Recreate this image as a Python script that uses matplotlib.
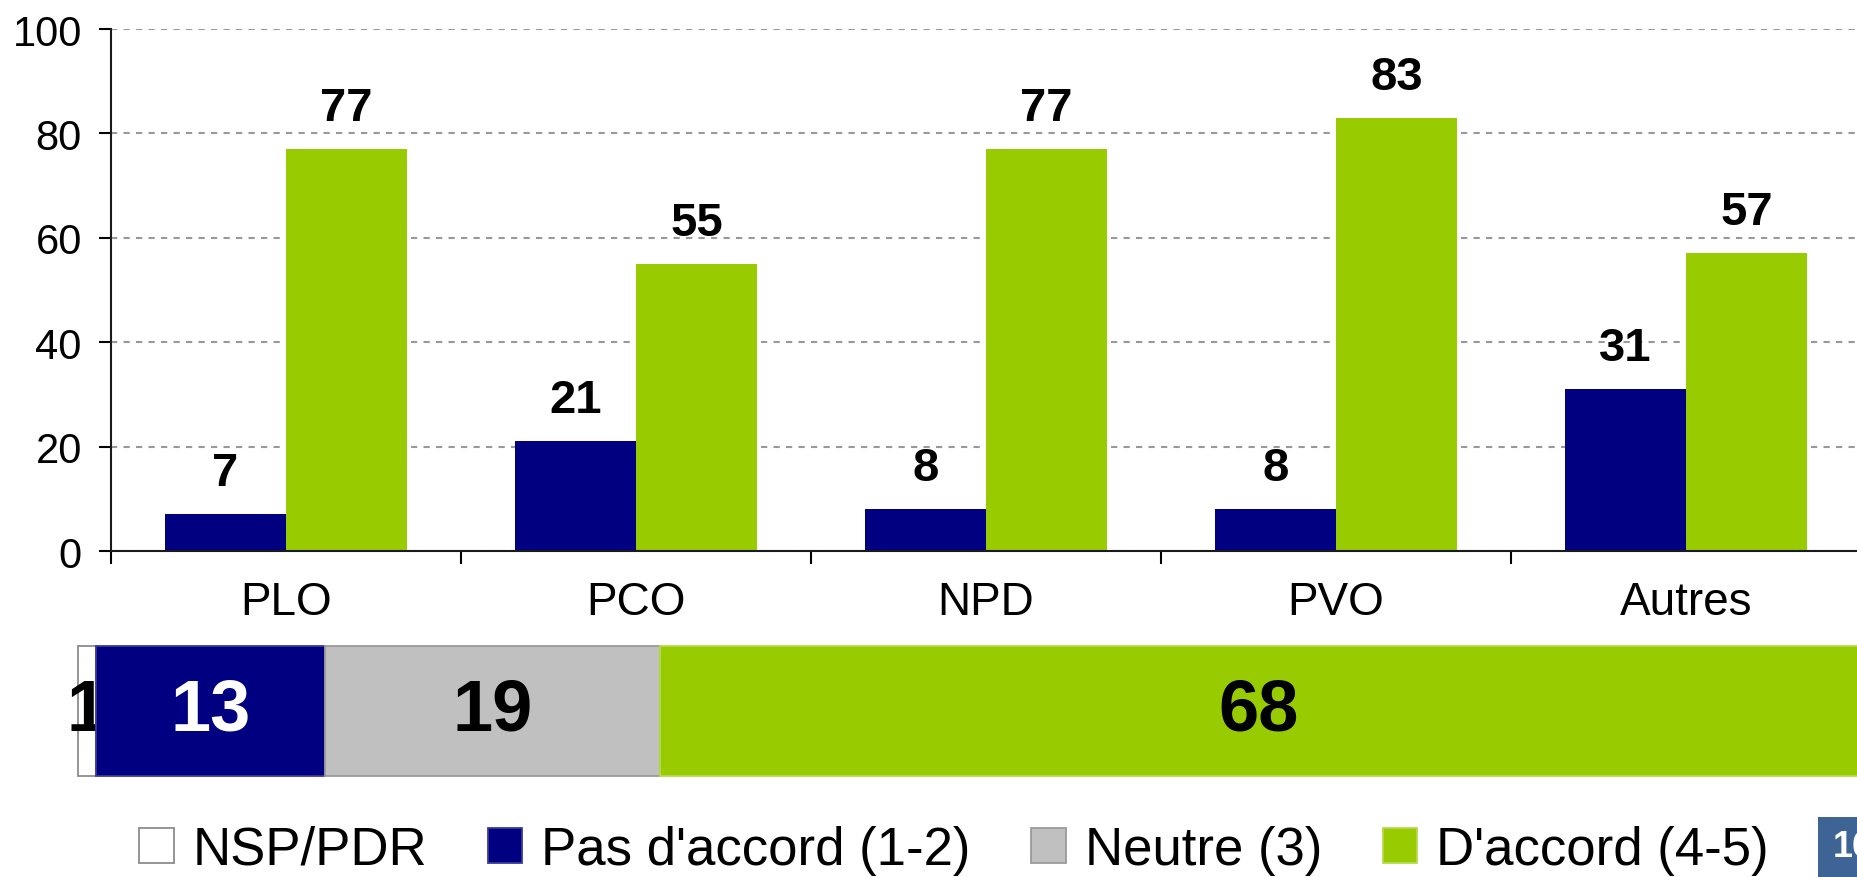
import matplotlib
matplotlib.use("Agg")
import matplotlib.pyplot as plt
from matplotlib.patches import Patch, Rectangle
import numpy as np

plt.rcParams['font.family'] = ['Liberation Sans', 'DejaVu Sans']

# data
partis = ["PLO", "PCO", "NPD", "PVO", "Autres"]
pas_accord = [7, 21, 8, 8, 31]
accord = [77, 55, 77, 83, 57]

total_labels = ["NSP/PDR", "Pas d'accord (1-2)", "Neutre (3)", "D'accord (4-5)"]
total_vals = [1, 13, 19, 68]

NAVY = "#000080"
GREEN = "#99CC00"
GRAY = "#C0C0C0"
colors = ["#FFFFFF", NAVY, GRAY, GREEN]
edges = ["#8C8C8C", "#3A3A9A", "#9A9A9A", "#B5DB4C"]
txt_colors = ["black", "white", "black", "black"]

W, H = 1858, 878
fig = plt.figure(figsize=(W / 100, H / 100), dpi=100)

# top chart: grouped bars
ax = fig.add_axes([111 / W, 1 - 552 / H, 1750 / W, 522 / H])
x = np.arange(len(partis))
bw = 0.345
b1 = ax.bar(x - bw / 2, pas_accord, bw, color=NAVY, zorder=2)
b2 = ax.bar(x + bw / 2, accord, bw, color=GREEN, zorder=2)
for bars, vals in [(b1, pas_accord), (b2, accord)]:
    for r, v in zip(bars, vals):
        ax.annotate(str(v), (r.get_x() + r.get_width() / 2, r.get_height()),
                    xytext=(0, 21), textcoords="offset points",
                    ha="center", va="baseline", fontsize=34, fontweight="bold")

ax.set_xlim(-0.5, len(partis) - 0.5)
ax.set_ylim(0, 100)
ax.set_yticks([0, 20, 40, 60, 80, 100])
ax.set_xticks(np.arange(len(partis) + 1) - 0.5)
ax.set_xticklabels([])
ax.set_xticks(x, minor=True)
ax.set_xticklabels(partis, minor=True, fontsize=33)
ax.tick_params(axis="x", which="major", length=9.5, width=1.5, direction="out")
ax.tick_params(axis="x", which="minor", length=0, pad=21)
ax.tick_params(axis="y", length=9, width=1.5, labelsize=30, pad=12)
for s in ["top", "right"]:
    ax.spines[s].set_visible(False)
for s in ["left", "bottom"]:
    ax.spines[s].set_linewidth(1.5)
    ax.spines[s].set_color("#1a1a1a")
ax.set_axisbelow(True)
ax.yaxis.grid(True, color="#999999", linestyle=(0, (3, 3)), linewidth=1.5)

# bottom: total stacked bar
ax2 = fig.add_axes([78 / W, 1 - 777 / H, (W - 78) / W, 130 / H])
left = 0
for i, v in enumerate(total_vals):
    ax2.barh(0, v, height=1, left=left, color=colors[i], edgecolor=edges[i],
             linewidth=1.3, clip_on=False, zorder=1 if i == 0 else 2)
    ax2.text(left + v / 2, 0, str(v), ha="center", va="center", fontsize=52,
             fontweight="bold", color=txt_colors[i], zorder=1.5 if i == 0 else 3)
    left += v
ax2.set_xlim(0, 101)
ax2.set_ylim(-0.5, 0.5)
ax2.axis("off")

# legend
handles = [Patch(facecolor=c, edgecolor=e, linewidth=1.3) for c, e in zip(colors, edges)]
fig.legend(handles, total_labels, loc="center", bbox_to_anchor=(954 / W, 1 - 851 / H),
           ncol=4, frameon=False, fontsize=38, handlelength=0.65, handleheight=0.65,
           handletextpad=0.36, columnspacing=1.15, borderpad=0, borderaxespad=0)

# page number box (cut by the right edge, as in the source slide)
fig.patches.append(Rectangle((1818 / W, 0), 60 / W, 60 / H, transform=fig.transFigure,
                             facecolor="#3E6496", edgecolor="none"))
fig.text(1833 / W, 30 / H, "16", color="white", fontsize=26, fontweight="bold",
         ha="left", va="center")

fig.savefig("out.png", dpi=100)
